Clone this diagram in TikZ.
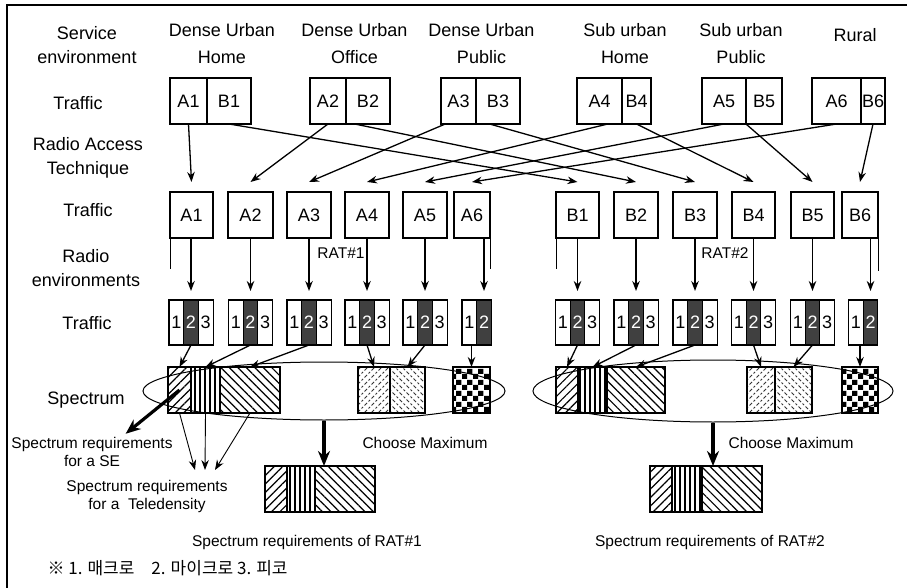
\documentclass[tikz,border=0pt]{standalone}
\usepackage{fontspec}
\setmainfont{Liberation Sans}
\newfontfamily\krfont{Noto Sans CJK KR}
\usepackage{tikz}
\usetikzlibrary{arrows.meta, positioning, shapes.geometric, calc, patterns, patterns.meta}

\pgfdeclarepatternformonly{dashne}{\pgfqpoint{-1pt}{-1pt}}{\pgfqpoint{8pt}{8pt}}{\pgfqpoint{7pt}{7pt}}{%
  \pgfsetlinewidth{0.9pt}%
  \pgfpathmoveto{\pgfqpoint{0.5pt}{0.5pt}}\pgfpathlineto{\pgfqpoint{3pt}{3pt}}%
  \pgfpathmoveto{\pgfqpoint{4.5pt}{4.5pt}}\pgfpathlineto{\pgfqpoint{6pt}{6pt}}%
  \pgfusepath{stroke}}
\pgfdeclarepatternformonly{dashnw}{\pgfqpoint{-1pt}{-1pt}}{\pgfqpoint{8pt}{8pt}}{\pgfqpoint{7pt}{7pt}}{%
  \pgfsetlinewidth{0.9pt}%
  \pgfpathmoveto{\pgfqpoint{0.5pt}{6.5pt}}\pgfpathlineto{\pgfqpoint{3pt}{4pt}}%
  \pgfpathmoveto{\pgfqpoint{4.5pt}{2.5pt}}\pgfpathlineto{\pgfqpoint{6pt}{1pt}}%
  \pgfusepath{stroke}}
\pgfdeclarepatternformonly{bigchecker}{\pgfpointorigin}{\pgfqpoint{11pt}{11pt}}{\pgfqpoint{11pt}{11pt}}{%
  \pgfpathrectangle{\pgfpointorigin}{\pgfqpoint{5.5pt}{5.5pt}}%
  \pgfpathrectangle{\pgfqpoint{5.5pt}{5.5pt}}{\pgfqpoint{5.5pt}{5.5pt}}%
  \pgfusepath{fill}}

\begin{document}
\begin{tikzpicture}[x=1pt, y=-1pt,
  hdr/.style={font=\fontsize{18}{27}\selectfont, align=center},
  lbl/.style={font=\fontsize{18}{24}\selectfont, align=center},
  note/.style={font=\fontsize{15.5}{18}\selectfont, align=center},
  tbox/.style={draw, line width=1.1pt, minimum height=46pt, inner sep=0pt, outer sep=0pt,
               font=\fontsize{18}{20}\selectfont},
  seg/.style={tbox, minimum width=14.7pt, minimum height=45pt},
  hot/.style={seg, fill=black!75, text=white},
  band/.style={draw, line width=1.1pt, minimum height=46pt, inner sep=0pt, outer sep=0pt,
               preaction={fill=white}},
  neband/.style={band, pattern={Lines[angle=45,distance=6pt,line width=1.2pt]}},
  vband/.style={band, pattern={Lines[angle=90,distance=5pt,line width=1.1pt]}},
  nwband/.style={band, pattern={Lines[angle=-45,distance=6pt,line width=1.2pt]}},
  lband/.style={band, pattern=dashne, pattern color=black!80},
  rband/.style={band, pattern=dashnw, pattern color=black!80},
  chkband/.style={band, pattern=bigchecker},
  ring/.style={draw, ellipse, line width=1pt, inner sep=0pt},
  arrow/.style={-{Stealth[length=10pt,width=7.5pt]}, line width=1.3pt},
  fat/.style={-{Stealth[length=15pt,width=12pt]}, line width=3.2pt}
]
\useasboundingbox (0,0) rectangle (907,588);
\draw[line width=1.2pt] (7,588) -- (7,5) -- (907,5);

% row labels
\node[lbl] (lse) at (87,45) {Service\\environment};
\node[lbl] (lt1) at (78,103) {Traffic};
\node[lbl] (lrat) at (88,158) {Radio Access\\Technique};
\node[lbl] (lt2) at (88,210) {Traffic};
\node[lbl] (lre) at (86,268) {Radio\\environments};
\node[lbl] (lt3) at (87,323) {Traffic};
\node[lbl] (lsp) at (86,400) {Spectrum};

% service environments
\node[hdr] (duh) at (222,43.5) {Dense Urban\\Home};
\node[hdr] (duo) at (354.5,43.5) {Dense Urban\\Office};
\node[hdr] (dup) at (481.5,43.5) {Dense Urban\\Public};
\node[hdr] (suh) at (625,43.5) {Sub urban\\Home};
\node[hdr] (sup) at (741,43.5) {Sub urban\\Public};
\node[hdr] (rur) at (855,35) {Rural};

% traffic per service environment
\node[tbox, minimum width=37pt] (ta1) at (188.5,101) {A1};
\node[tbox, minimum width=44pt, right=0pt of ta1] (tb1) {B1};
\node[tbox, minimum width=36pt] (ta2) at (328,101) {A2};
\node[tbox, minimum width=44pt, right=0pt of ta2] (tb2) {B2};
\node[tbox, minimum width=35pt] (ta3) at (458.5,101) {A3};
\node[tbox, minimum width=44pt, right=0pt of ta3] (tb3) {B3};
\node[tbox, minimum width=45pt] (ta4) at (599.5,101) {A4};
\node[tbox, minimum width=29pt, right=0pt of ta4] (tb4) {B4};
\node[tbox, minimum width=44pt] (ta5) at (724,101) {A5};
\node[tbox, minimum width=36pt, right=0pt of ta5] (tb5) {B5};
\node[tbox, minimum width=49pt] (ta6) at (836.5,101) {A6};
\node[tbox, minimum width=24pt, right=0pt of ta6] (tb6) {B6};

% traffic per RAT
\node[tbox, minimum width=43pt] (ma1) at (191.5,215) {A1};
\node[tbox, minimum width=45pt] (ma2) at (250.5,215) {A2};
\node[tbox, minimum width=44pt] (ma3) at (309,215) {A3};
\node[tbox, minimum width=44pt] (ma4) at (367,215) {A4};
\node[tbox, minimum width=44pt] (ma5) at (425,215) {A5};
\node[tbox, minimum width=36pt] (ma6) at (472,215) {A6};
\node[tbox, minimum width=43pt] (mb1) at (577.5,215) {B1};
\node[tbox, minimum width=44pt] (mb2) at (636,215) {B2};
\node[tbox, minimum width=44pt] (mb3) at (695,215) {B3};
\node[tbox, minimum width=43pt] (mb4) at (753.5,215) {B4};
\node[tbox, minimum width=43pt] (mb5) at (812.5,215) {B5};
\node[tbox, minimum width=36pt] (mb6) at (860,215) {B6};

\draw[arrow] (ta1.south) -- ($(ma1.north)+(0,-10)$);
\draw[arrow] (ta2.south) -- ($(ma2.north)+(0,-10)$);
\draw[arrow] (ta3.240) -- ($(ma3.north)+(0,-10)$);
\draw[arrow] (ta4.290) -- ($(ma4.north)+(0,-10)$);
\draw[arrow] (ta5.south) -- ($(ma5.north)+(0,-10)$);
\draw[arrow] (ta6.south) -- ($(ma6.north)+(0,-10)$);
\draw[arrow] (tb1.south) -- ($(mb1.north)+(0,-10)$);
\draw[arrow] (tb2.240) -- ($(mb2.north)+(0,-10)$);
\draw[arrow] (tb3.250) -- ($(mb3.north)+(0,-10)$);
\draw[arrow] (tb4.south) -- ($(mb4.north)+(0,-10)$);
\draw[arrow] (tb5.south west) -- ($(mb5.north)+(0,-10)$);
\draw[arrow] (tb6.south) -- ($(mb6.north)+(0,-10)$);

% traffic per radio environment (1 macro, 2 micro, 3 pico)
\foreach \k/\x in {a1/191,a2/250.5,a3/309,a4/367,a5/425,b1/577.5,b2/636,b3/695,b4/753.5,b5/812.5}{
  \node[hot] (r\k-2) at (\x,322.5) {2};
  \node[seg, left=0pt of r\k-2] (r\k-1) {1};
  \node[seg, right=0pt of r\k-2] (r\k-3) {3};
}
\node[hot] (ra6-2) at (484,322.5) {2};
\node[seg, left=0pt of ra6-2] (ra6-1) {1};
\node[hot] (rb6-2) at (870.5,322.5) {2};
\node[seg, left=0pt of rb6-2] (rb6-1) {1};

\foreach \k in {a1,a2,a3,a4,a5,a6,b1,b2,b3,b4,b5,b6}
  \draw[arrow, line width=1.5pt, shorten >=9pt] (r\k-2.north |- m\k.south) -- (r\k-2.north);

\draw[line width=0.8pt] (ma1.south west) -- ++(0,31);
\draw[line width=0.8pt] (ma6.south east) -- ++(0,31);
\draw[line width=0.8pt] (mb1.south west) -- ++(0,31);
\draw[line width=0.8pt] (mb6.south east) -- ++(0,33);
\node[note] (rat1) at (341,253) {RAT\#1};
\node[note] (rat2) at (725,253) {RAT\#2};

% spectrum
\node[neband, minimum width=23pt] (sl1) at (179.5,390) {};
\node[vband, minimum width=29pt, right=0pt of sl1] (sl2) {};
\node[nwband, minimum width=60pt, right=0pt of sl2] (sl3) {};
\node[lband, minimum width=32pt] (sl4) at (374,390) {};
\node[rband, minimum width=35pt, right=0pt of sl4] (sl5) {};
\node[chkband, minimum width=37pt] (sl6) at (471.5,390) {};
\node[neband, minimum width=22pt] (sr1) at (567,390) {};
\node[vband, minimum width=29pt, right=0pt of sr1] (sr2) {};
\node[nwband, minimum width=58pt, right=0pt of sr2] (sr3) {};
\node[lband, minimum width=28pt] (sr4) at (761,390) {};
\node[rband, minimum width=37pt, right=0pt of sr4] (sr5) {};
\node[chkband, minimum width=36pt] (sr6) at (860,390) {};
\node[ring, minimum width=362pt, minimum height=58pt] (ring1) at (324,391) {};
\node[ring, minimum width=360pt, minimum height=62pt] (ring2) at (713,391) {};

\draw[arrow] (ra1-2.south) -- (sl1.north);
\draw[arrow] (ra2-2.south) -- (sl2.north);
\draw[arrow] (ra3-2.south) -- (sl3.north);
\draw[arrow] (ra4-2.south) -- (sl4.north);
\draw[arrow] (ra5-2.south) -- (sl5.north);
\draw[arrow] (sl6.north |- ra6-1.south) -- (sl6.north);
\draw[arrow] (rb1-2.south) -- (sr1.north);
\draw[arrow] (rb2-2.south) -- (sr2.north);
\draw[arrow] (rb3-2.south) -- (sr3.north);
\draw[arrow] (rb4-2.south) -- (sr4.north);
\draw[arrow] (rb5-2.south) -- (sr5.north);
\draw[arrow] (sr6.north |- rb6-2.south) -- (sr6.north);

% requirements
\node[note] (se) at (92,452) {Spectrum requirements\\for a SE};
\node[note] (tele) at (147,496) {Spectrum requirements\\for a~ Teledensity};
\coordinate (tipa) at (195,470);
\coordinate (tipb) at (205,470);
\coordinate (tipc) at (215,470);
\draw[fat] (sl1.center) -- ($(se.north)!0.4!(se.north east)$);
\draw[arrow, line width=0.9pt] (sl1.south) -- (tipa);
\draw[arrow, line width=0.9pt] (sl2.south) -- (tipb);
\draw[arrow, line width=0.9pt] (sl3.south) -- (tipc);

\node[neband, minimum width=22pt] (q1a) at (276,489) {};
\node[vband, minimum width=28pt, right=0pt of q1a] (q1b) {};
\node[nwband, minimum width=60pt, right=0pt of q1b] (q1c) {};
\node[neband, minimum width=22pt] (q2a) at (661,489) {};
\node[vband, minimum width=30pt, right=0pt of q2a] (q2b) {};
\node[nwband, minimum width=60pt, right=0pt of q2b] (q2c) {};

\draw[fat] (ring1.south) -- (ring1.south |- q1c.north);
\draw[fat] (ring2.south) -- (ring2.south |- q2c.north);
\node[note] (max1) at (425,443) {Choose Maximum};
\node[note] (max2) at (791,443) {Choose Maximum};
\node[note] (req1) at (307,542) {Spectrum requirements of RAT\#1};
\node[note] (req2) at (710,542) {Spectrum requirements of RAT\#2};

\node[anchor=west, font=\krfont\fontsize{17}{20}\selectfont] (foot) at (44,568) {※ 1. 매크로\quad 2. 마이크로 3. 피코};
\end{tikzpicture}
\end{document}
